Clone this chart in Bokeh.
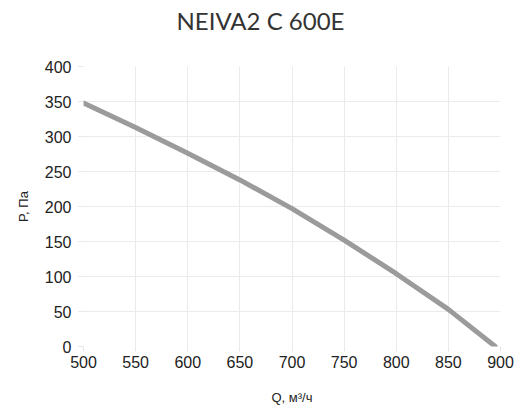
from bokeh.plotting import figure
from bokeh.models import Range1d, FixedTicker, Title
from bokeh.embed import file_html
from bokeh.resources import INLINE

title_text = "NEIVA2 C 600E"
x_label = "Q, м³/ч"
y_label = "P, Па"

q_values = [500, 550, 600, 650, 700, 750, 800, 850, 895]
p_values = [348, 313, 276, 238, 197, 152, 104, 53, 0]

x_ticks = [500, 550, 600, 650, 700, 750, 800, 850, 900]
y_ticks = [0, 50, 100, 150, 200, 250, 300, 350, 400]

p = figure(frame_width=417, frame_height=280, output_backend="svg", toolbar_location=None,
           x_range=Range1d(500, 900), y_range=Range1d(0, 400),
           min_border_left=83, min_border_right=15, min_border_top=65, min_border_bottom=62)

# spacer between frame and title (items added later are stacked further out)
p.add_layout(Title(text=" ", text_font_size="10px", standoff=12), "above")
p.add_layout(Title(text=title_text, align="left", vertical_align="top", offset=93, standoff=10,
                   text_font="Lato", text_font_size="24px", text_font_style="normal",
                   text_color="#333333"), "above")

p.outline_line_color = None
p.background_fill_color = "white"
p.border_fill_color = "white"

p.line(q_values, p_values, line_color="#9b9b9b", line_width=5, line_cap="round")

for ax in (p.xaxis[0], p.yaxis[0]):
    ax.axis_line_color = None
    ax.major_tick_line_color = "#e6e6e6"
    ax.major_tick_out = 5
    ax.major_tick_in = 0
    ax.minor_tick_line_color = None
    ax.major_label_text_font = "Liberation Sans"
    ax.major_label_text_font_size = "16px"
    ax.major_label_text_color = "#222222"
    ax.axis_label_text_font = "Liberation Sans"
    ax.axis_label_text_font_size = "13px"
    ax.axis_label_text_font_style = "normal"
    ax.axis_label_text_color = "#222222"

p.xaxis.ticker = FixedTicker(ticks=x_ticks)
p.yaxis.ticker = FixedTicker(ticks=y_ticks)
p.xaxis.axis_label = x_label
p.yaxis.axis_label = y_label
p.xaxis.major_label_standoff = 4
p.yaxis.major_label_standoff = 7
p.xaxis.axis_label_standoff = 19
p.yaxis.axis_label_standoff = 11

p.xgrid.grid_line_color = "#ebebeb"
p.ygrid.grid_line_color = "#ebebeb"

open("out.html", "w").write(file_html(p, INLINE))
